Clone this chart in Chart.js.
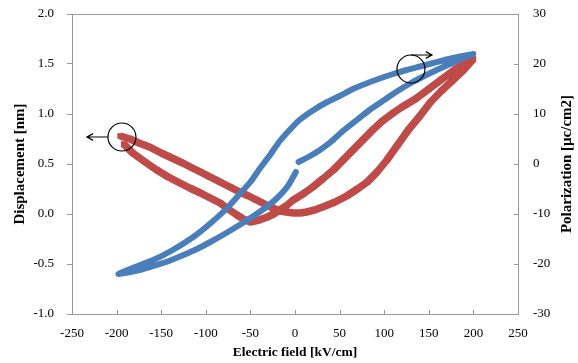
<!DOCTYPE html>
<html>
<head>
<meta charset="utf-8">
<script src="https://cdn.jsdelivr.net/npm/chart.js@4.4.0/dist/chart.umd.min.js"></script>
<style>
  html, body { margin: 0; padding: 0; background: #fff; }
  #grafica { display: block; }
</style>
</head>
<body>
<canvas id="grafica" width="578" height="363"></canvas>
<script>
// Lazo P-E: campo (kV/cm) y polarizacion (uC/cm2), en el orden del barrido
const campoPol = [4, 15, 28, 40, 55, 70, 85, 100, 115, 130, 145, 160, 175, 190, 200,
  185, 170, 155, 140, 125, 110, 95, 80, 65, 50, 35, 20, 5, -5, -17, -28, -39, -50, -62, -76, -95, -114, -137, -159, -182, -198,
  -185, -170, -155, -140, -125, -110, -95, -80, -65, -50, -35, -20, -8, 1];
const polarizacion = [0.4, 1.4, 2.8, 4.4, 6.8, 8.9, 11.0, 12.8, 14.6, 16.2, 17.6, 18.9, 20.1, 21.3, 22.0,
  21.5, 20.9, 20.2, 19.5, 18.8, 18.0, 17.1, 16.1, 15.0, 13.6, 12.3, 10.7, 8.8, 7.0, 4.6, 1.8, -0.8, -3.6, -6.0, -8.8, -11.9, -14.6, -17.2, -19.2, -20.8, -22.0,
  -21.6, -21.0, -20.2, -19.3, -18.2, -17.0, -15.6, -14.1, -12.5, -10.8, -9.0, -6.8, -4.4, -1.6];

// Curva mariposa: campo (kV/cm) y desplazamiento (nm), subida y luego bajada
const campoDesp = [-196, -185, -175, -163, -150, -138, -126, -115, -106, -95, -84, -73, -62, -52, -43, -32, -20, -10, -2, 6, 13, 22, 31, 45, 58, 70, 81, 92, 103, 115, 127, 140, 152, 164, 176, 188, 200,
  190, 180, 165, 150, 135, 120, 110, 98, 87, 76, 65, 54, 43, 31, 20, 9, -2, -10, -17, -24, -31, -40, -50, -58, -65, -75, -84, -95, -106, -118, -129, -142, -155, -168, -182, -192];
const desplazamiento = [0.78, 0.75, 0.71, 0.67, 0.61, 0.56, 0.51, 0.46, 0.42, 0.37, 0.32, 0.27, 0.22, 0.18, 0.14, 0.09, 0.04, 0.02, 0.01, 0.01, 0.02, 0.04, 0.07, 0.12, 0.18, 0.25, 0.32, 0.42, 0.54, 0.69, 0.84, 0.98, 1.12, 1.23, 1.33, 1.43, 1.55,
  1.51, 1.45, 1.35, 1.25, 1.15, 1.07, 1.01, 0.93, 0.84, 0.74, 0.64, 0.54, 0.44, 0.35, 0.27, 0.20, 0.14, 0.08, 0.04, 0.00, -0.03, -0.06, -0.08, -0.05, -0.01, 0.05, 0.11, 0.16, 0.21, 0.26, 0.31, 0.37, 0.44, 0.52, 0.61, 0.70];

// Marcas de los ejes
const ticksCampo = [-250, -200, -150, -100, -50, 0, 50, 100, 150, 200, 250];
const ticksDesp = [-1.0, -0.5, 0.0, 0.5, 1.0, 1.5, 2.0];
const ticksPol = [-30, -20, -10, 0, 10, 20, 30];

// Circulos con flecha que indican a que eje va cada curva
const indicadores = [
  { eje: 'y', x: -194, y: 0.77, lado: 'izq' },
  { eje: 'y2', x: 130, y: 19, lado: 'der' },
];

const azul = '#4a7ebb';
const rojo = '#be4b48';
const gris = '#999999';
const serif = "'Liberation Serif', 'Times New Roman', serif";

function puntos(xs, ys) {
  return xs.map((x, i) => ({ x: x, y: ys[i] }));
}

function fijarTicks(valores) {
  return function (scale) {
    scale.ticks = valores.map((v) => ({ value: v }));
  };
}

// fija el tamaño del eje y quita el margen extra que Chart.js reserva para las etiquetas
function fijarTamano(ancho, alto) {
  return function (s) {
    if (ancho !== null) s.width = ancho;
    if (alto !== null) s.height = alto;
    s.paddingTop = 0;
    s.paddingBottom = 0;
    s.paddingLeft = 0;
    s.paddingRight = 0;
  };
}

function flecha(ctx, x0, y0, x1, y1) {
  const ang = Math.atan2(y1 - y0, x1 - x0);
  ctx.beginPath();
  ctx.moveTo(x0, y0);
  ctx.lineTo(x1, y1);
  ctx.moveTo(x1 - 7 * Math.cos(ang - 0.5), y1 - 7 * Math.sin(ang - 0.5));
  ctx.lineTo(x1, y1);
  ctx.lineTo(x1 - 7 * Math.cos(ang + 0.5), y1 - 7 * Math.sin(ang + 0.5));
  ctx.stroke();
}

const adornos = {
  id: 'adornos',
  afterDraw(chart) {
    const { ctx, chartArea: a, scales } = chart;
    ctx.save();

    // borde superior y marcas hacia dentro (eje x y eje derecho)
    ctx.strokeStyle = gris;
    ctx.lineWidth = 1;
    ctx.beginPath();
    ctx.moveTo(a.left, Math.round(a.top) + 0.5);
    ctx.lineTo(a.right, Math.round(a.top) + 0.5);
    scales.x.ticks.forEach((t) => {
      const px = Math.round(scales.x.getPixelForValue(t.value)) + 0.5;
      ctx.moveTo(px, a.bottom);
      ctx.lineTo(px, a.bottom - 4);
    });
    scales.y2.ticks.forEach((t) => {
      const py = Math.round(scales.y2.getPixelForValue(t.value)) + 0.5;
      ctx.moveTo(a.right, py);
      ctx.lineTo(a.right - 4, py);
    });
    ctx.stroke();

    // circulos y flechas
    ctx.strokeStyle = '#000';
    ctx.lineWidth = 1.2;
    const r = 14;
    indicadores.forEach((m) => {
      const cx = scales.x.getPixelForValue(m.x);
      const cy = scales[m.eje].getPixelForValue(m.y);
      ctx.beginPath();
      ctx.arc(cx, cy, r, 0, Math.PI * 2);
      ctx.stroke();
      if (m.lado === 'izq') {
        flecha(ctx, cx - r, cy, cx - r - 21, cy);
      } else {
        flecha(ctx, cx, cy - r, cx + 21, cy - r);
      }
    });

    // titulo del eje derecho, de abajo hacia arriba
    ctx.fillStyle = '#000';
    ctx.font = 'bold 15px ' + serif;
    ctx.textAlign = 'center';
    ctx.textBaseline = 'middle';
    ctx.translate(567, (a.top + a.bottom) / 2);
    ctx.rotate(-Math.PI / 2);
    ctx.fillText('Polarization [\u00b5c/cm2]', 0, 0);
    ctx.restore();
  },
};

const ctx = document.getElementById('grafica').getContext('2d');
const grafica = new Chart(ctx, {
  type: 'scatter',
  data: {
    datasets: [
      {
        label: 'Polarization',
        data: puntos(campoPol, polarizacion),
        yAxisID: 'y2',
        showLine: true,
        borderColor: azul,
        borderWidth: 6,
        borderCapStyle: 'round',
        borderJoinStyle: 'round',
        tension: 0.2,
        pointRadius: 0,
        order: 0,
      },
      {
        label: 'Displacement',
        data: puntos(campoDesp, desplazamiento),
        yAxisID: 'y',
        showLine: true,
        borderColor: rojo,
        borderWidth: 7.5,
        borderJoinStyle: 'bevel',
        tension: 0,
        pointStyle: 'rect',
        pointRadius: 4,
        pointBorderWidth: 0,
        pointBackgroundColor: rojo,
        order: 1,
      },
    ],
  },
  options: {
    responsive: false,
    animation: false,
    devicePixelRatio: 1,
    layout: { padding: { top: 14, left: 0, right: 0, bottom: 0 } },
    plugins: {
      legend: { display: false },
      tooltip: { enabled: false },
    },
    scales: {
      x: {
        type: 'linear',
        min: -250,
        max: 250,
        afterBuildTicks: fijarTicks(ticksCampo),
        afterFit: fijarTamano(null, 49),
        ticks: {
          color: '#000',
          font: { family: serif, size: 13 },
          padding: 12,
          maxRotation: 0,
          autoSkip: false,
        },
        grid: { drawOnChartArea: false, drawTicks: false },
        border: { color: gris },
        title: {
          display: true,
          text: 'Electric field [kV/cm]',
          color: '#000',
          font: { family: serif, size: 13.5, weight: 'bold' },
          padding: { top: 0, bottom: 2 },
        },
      },
      y: {
        type: 'linear',
        position: 'left',
        min: -1,
        max: 2,
        afterBuildTicks: fijarTicks(ticksDesp),
        afterFit: fijarTamano(72, null),
        ticks: {
          color: '#000',
          font: { family: serif, size: 13 },
          padding: 13,
          autoSkip: false,
          callback: (v) => Number(v).toFixed(1),
        },
        grid: { drawOnChartArea: false, drawTicks: true, tickLength: 5, color: gris },
        border: { color: gris },
        title: {
          display: true,
          text: 'Displacement [nm]',
          color: '#000',
          font: { family: serif, size: 15, weight: 'bold' },
          padding: { top: 11, bottom: 0 },
        },
      },
      y2: {
        type: 'linear',
        position: 'right',
        min: -30,
        max: 30,
        afterBuildTicks: fijarTicks(ticksPol),
        afterFit: fijarTamano(60, null),
        ticks: {
          color: '#000',
          font: { family: serif, size: 13 },
          padding: 15,
          autoSkip: false,
        },
        grid: { drawOnChartArea: false, drawTicks: false },
        border: { color: gris },
      },
    },
  },
  plugins: [adornos],
});
</script>
</body>
</html>
